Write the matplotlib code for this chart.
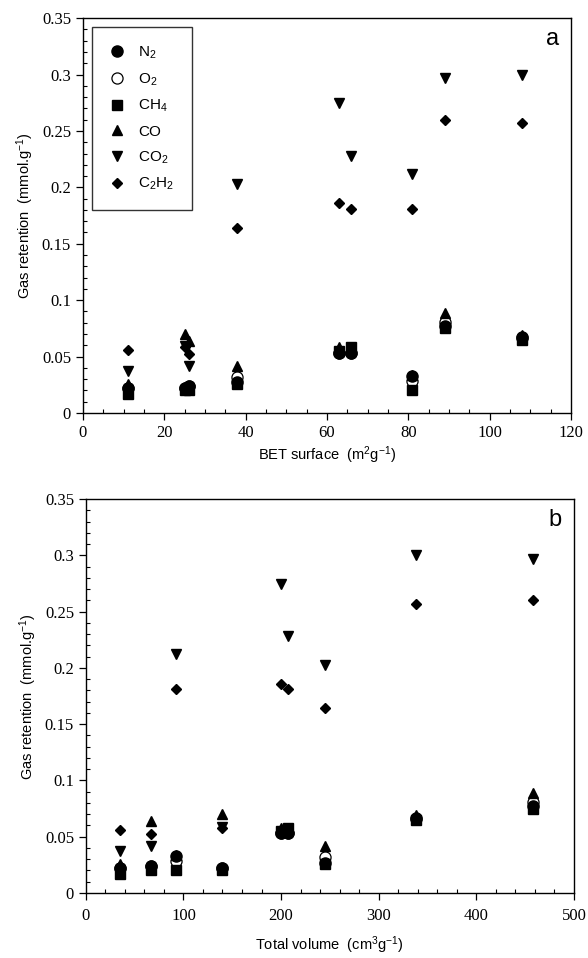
import numpy as np
import matplotlib
matplotlib.use('Agg')
import matplotlib.pyplot as plt
from matplotlib.ticker import MultipleLocator, FuncFormatter

plt.rcParams['font.family'] = 'Liberation Sans'
plt.rcParams['mathtext.default'] = 'regular'

# datos de las 9 muestras
bet_surface  = [11, 25, 26, 38, 63, 66, 81, 89, 108]
total_volume = [35, 140, 67, 245, 200, 207, 92, 458, 338]

n2   = [0.022, 0.022, 0.024, 0.027, 0.053, 0.053, 0.033, 0.077, 0.067]
o2   = [0.022, 0.022, 0.024, 0.032, 0.053, 0.053, 0.028, 0.081, 0.066]
ch4  = [0.017, 0.020, 0.020, 0.026, 0.055, 0.058, 0.020, 0.075, 0.065]
co   = [0.026, 0.070, 0.064, 0.042, 0.058, 0.056, 0.034, 0.089, 0.069]
co2  = [0.037, 0.059, 0.042, 0.203, 0.275, 0.228, 0.212, 0.297, 0.300]
c2h2 = [0.056, 0.058, 0.052, 0.164, 0.186, 0.181, 0.181, 0.260, 0.257]

series = [
    ('N$_2$', n2, dict(marker='o', ms=8, mfc='k', mec='k'), 3),
    ('O$_2$', o2, dict(marker='o', ms=8, mfc='white', mec='k', mew=0.9), 2),
    ('CH$_4$', ch4, dict(marker='s', ms=7, mfc='k', mec='k'), 4),
    ('CO', co, dict(marker='^', ms=7, mfc='k', mec='k'), 5),
    ('CO$_2$', co2, dict(marker='v', ms=7, mfc='k', mec='k'), 6),
    ('C$_2$H$_2$', c2h2, dict(marker='D', ms=4.8, mfc='k', mec='k'), 7),
]

fig = plt.figure(figsize=(5.88, 9.58), dpi=100)
ax1 = fig.add_axes([0.141, 0.569, 0.830, 0.412])
ax2 = fig.add_axes([0.146, 0.0679, 0.830, 0.411])

yfmt = FuncFormatter(lambda v, p: '%g' % round(v, 3))

def draw(ax, x, xmax, xmajor, xminor, xlabel, letter, xpad, lpad):
    handles = []
    for label, y, style, z in series:
        h, = ax.plot(x, y, ls='none', label=label, zorder=z, **style)
        handles.append(h)
    ax.set_xlim(0, xmax)
    ax.set_ylim(0, 0.35)
    ax.xaxis.set_major_locator(MultipleLocator(xmajor))
    ax.xaxis.set_minor_locator(MultipleLocator(xminor))
    ax.yaxis.set_major_locator(MultipleLocator(0.05))
    ax.yaxis.set_minor_locator(MultipleLocator(0.01))
    ax.yaxis.set_major_formatter(yfmt)
    ax.tick_params(which='major', direction='out', length=5, width=0.9,
                   top=False, right=False)
    ax.tick_params(axis='x', which='major', pad=xpad)
    ax.tick_params(which='minor', direction='in', length=3, width=0.8,
                   top=False, right=False)
    for lab in ax.get_xticklabels() + ax.get_yticklabels():
        lab.set_fontfamily('Liberation Serif')
        lab.set_fontsize(12)
    for sp in ax.spines.values():
        sp.set_linewidth(1.0)
    ax.set_xlabel(xlabel, fontsize=10.5, labelpad=lpad)
    ax.set_ylabel('Gas retention  (mmol.g$^{-1}$)', fontsize=10.5, labelpad=4)
    ax.text(0.975, 0.975, letter, transform=ax.transAxes, ha='right', va='top',
            fontsize=17)
    return handles

h = draw(ax1, bet_surface, 120, 20, 5, 'BET surface  (m$^2$g$^{-1}$)', 'a', 4, 2)
draw(ax2, total_volume, 500, 100, 20, 'Total volume  (cm$^3$g$^{-1}$)', 'b', 5.5, 8)

leg = ax1.legend(handles=h, loc='upper left', bbox_to_anchor=(0.018, 0.978),
                 frameon=True, fancybox=False, edgecolor='k', fontsize=11,
                 handlelength=1.0, handletextpad=0.9, labelspacing=0.68,
                 borderpad=1.15, borderaxespad=0.0)
leg.get_frame().set_linewidth(1.0)

plt.savefig('out.png', dpi=100)
